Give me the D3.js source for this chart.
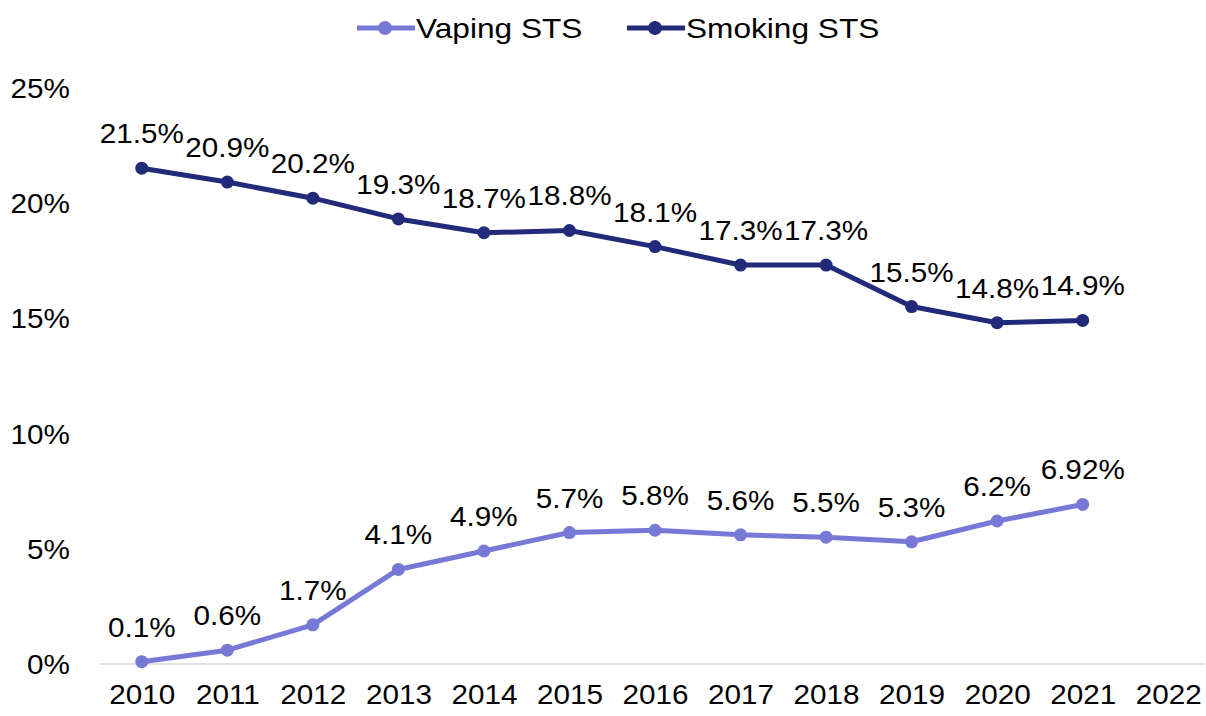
<!DOCTYPE html>
<html>
<head>
<meta charset="utf-8">
<script src="https://cdn.jsdelivr.net/npm/d3@7"></script>
<style>
  body { margin: 0; background: #fff; }
  text { font-family: "Liberation Sans", Arial, sans-serif; fill: #000; }
</style>
</head>
<body>
<div id="chart_container"></div>
<script>
// Data
const years = ["2010", "2011", "2012", "2013", "2014", "2015", "2016", "2017", "2018", "2019", "2020", "2021", "2022"]
const smoking = [21.5, 20.9, 20.2, 19.3, 18.7, 18.8, 18.1, 17.3, 17.3, 15.5, 14.8, 14.9]
const vaping = [0.1, 0.6, 1.7, 4.1, 4.9, 5.7, 5.8, 5.6, 5.5, 5.3, 6.2, 6.92]
const vapingLabels = ["0.1%", "0.6%", "1.7%", "4.1%", "4.9%", "5.7%", "5.8%", "5.6%", "5.5%", "5.3%", "6.2%", "6.92%"]
const yTicks = [0, 5, 10, 15, 20, 25]

const W = 1206
const H = 716
const fontSize = "28px"
const stretchX = 1.06
const legendStretch = 1.13
const smokeColor = "#222a7a"
const vapeColor = "#7679d6"

const svg = d3.select("#chart_container").append("svg")
  .attr("width", W)
  .attr("height", H)

const x = d3.scalePoint().domain(years).range([99, 1211]).padding(0.5)
const y = d3.scaleLinear().domain([0, 25]).range([664, 87.5])

// text in the reference is a bit wider than Arial, so stretch it sideways
function stretch(sel, k = stretchX) {
  sel.each(function () {
    const t = d3.select(this)
    const tx = +t.attr("x") || 0
    const ty = +t.attr("y") || 0
    t.attr("x", 0).attr("y", 0)
      .attr("transform", `translate(${tx},${ty}) scale(${k},1)`)
  })
}

// baseline
svg.append("line")
  .attr("x1", 100).attr("x2", 1205)
  .attr("y1", y(0)).attr("y2", y(0))
  .attr("stroke", "#d9d9d9")
  .attr("stroke-width", 1.5)

// y axis
svg.append("g")
  .attr("transform", "translate(70,0)")
  .call(d3.axisLeft(y).tickValues(yTicks).tickFormat(d => d + "%").tickSize(0).tickPadding(0))
  .call(g => g.select(".domain").remove())
  .selectAll("text")
  .style("font-size", fontSize)
  .attr("dy", "0.35em")
  .call(stretch)

// x axis
svg.append("g")
  .attr("transform", `translate(0, ${y(0)})`)
  .call(d3.axisBottom(x).tickSize(0).tickPadding(0))
  .call(g => g.select(".domain").remove())
  .selectAll("text")
  .style("font-size", fontSize)
  .attr("dy", "0")
  .attr("y", 40)
  .call(stretch)

const series = [
  { name: "Vaping STS", values: vaping, labels: vapingLabels, color: vapeColor },
  { name: "Smoking STS", values: smoking, labels: smoking.map(v => v.toFixed(1) + "%"), color: smokeColor }
]

const line = d3.line()
  .x((d, i) => x(years[i]))
  .y(d => y(d))

series.forEach(s => {
  svg.append("path")
    .datum(s.values)
    .attr("fill", "none")
    .attr("stroke", s.color)
    .attr("stroke-width", 5)
    .attr("stroke-linejoin", "round")
    .attr("d", line)

  svg.append("g").selectAll("circle")
    .data(s.values)
    .join("circle")
    .attr("cx", (d, i) => x(years[i]))
    .attr("cy", d => y(d))
    .attr("r", 6.5)
    .attr("fill", s.color)

  svg.append("g").selectAll("text")
    .data(s.values)
    .join("text")
    .attr("x", (d, i) => x(years[i]))
    .attr("y", d => y(d) - 25)
    .attr("text-anchor", "middle")
    .style("font-size", fontSize)
    .text((d, i) => s.labels[i])
    .call(stretch)
})

// legend
const legendItems = [
  { x: 357, textX: 416 },
  { x: 627, textX: 686 }
]
series.forEach((s, i) => {
  const g = svg.append("g")
  const lx = legendItems[i].x
  g.append("line")
    .attr("x1", lx).attr("x2", lx + 58)
    .attr("y1", 28).attr("y2", 28)
    .attr("stroke", s.color)
    .attr("stroke-width", 5)
  g.append("circle")
    .attr("cx", lx + 28).attr("cy", 28).attr("r", 7)
    .attr("fill", s.color)
  g.append("text")
    .attr("x", legendItems[i].textX)
    .attr("y", 28)
    .attr("dy", "0.35em")
    .style("font-size", fontSize)
    .text(s.name)
    .call(stretch, legendStretch)
})
</script>
</body>
</html>
